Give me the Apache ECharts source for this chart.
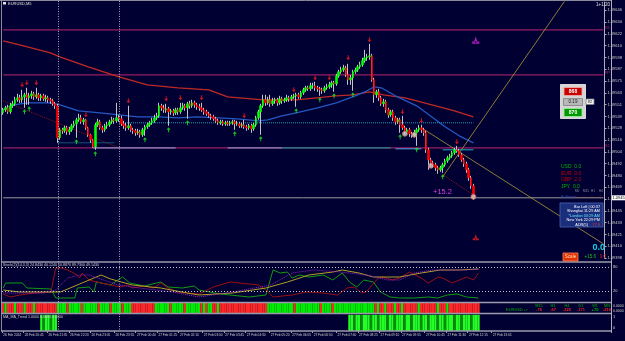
<!DOCTYPE html>
<html><head><meta charset="utf-8">
<script src="https://cdn.jsdelivr.net/npm/echarts/dist/echarts.min.js"></script>
<style>html,body{margin:0;padding:0;background:#000032;}#c{width:625px;height:341px;}</style>
</head><body><div id="c"></div>
<script>
// ---------- DATA (EURUSD, M5) ----------
const opens = [
1.09543,1.09546,1.09548,1.09544,1.09550,1.09552,1.09556,1.09558,1.09556,1.09559,
1.09561,1.09558,1.09560,1.09562,1.09559,1.09561,1.09558,1.09560,1.09557,1.09558,
1.09556,1.09555,1.09552,1.09550,1.09518,1.09526,1.09525,1.09528,1.09524,1.09526,
1.09530,1.09532,1.09536,1.09538,1.09534,1.09536,1.09528,1.09521,1.09516,1.09509,
1.09531,1.09534,1.09528,1.09526,1.09530,1.09531,1.09534,1.09536,1.09535,1.09538,
1.09537,1.09532,1.09530,1.09528,1.09530,1.09526,1.09525,1.09523,1.09524,1.09521,
1.09526,1.09529,1.09531,1.09533,1.09535,1.09538,1.09540,1.09550,1.09548,1.09546,
1.09547,1.09544,1.09545,1.09543,1.09546,1.09544,1.09548,1.09550,1.09548,1.09552,
1.09550,1.09553,1.09551,1.09549,1.09548,1.09546,1.09544,1.09542,1.09540,1.09539,
1.09537,1.09535,1.09533,1.09534,1.09532,1.09533,1.09532,1.09533,1.09534,1.09532,
1.09532,1.09530,1.09531,1.09529,1.09528,1.09530,1.09527,1.09531,1.09538,1.09544,
1.09550,1.09556,1.09553,1.09556,1.09552,1.09555,1.09556,1.09553,1.09557,1.09555,
1.09556,1.09558,1.09557,1.09559,1.09560,1.09561,1.09559,1.09563,1.09566,1.09568,
1.09567,1.09570,1.09570,1.09568,1.09567,1.09566,1.09565,1.09568,1.09569,1.09571,
1.09573,1.09572,1.09580,1.09584,1.09586,1.09588,1.09581,1.09576,1.09578,1.09584,
1.09586,1.09589,1.09591,1.09595,1.09598,1.09599,1.09600,1.09576,1.09561,1.09564,
1.09558,1.09552,1.09554,1.09546,1.09541,1.09544,1.09538,1.09534,1.09536,1.09531,
1.09528,1.09524,1.09526,1.09522,1.09521,1.09523,1.09526,1.09528,1.09526,1.09523,
1.09506,1.09496,1.09493,1.09491,1.09488,1.09486,1.09488,1.09491,1.09495,1.09498,
1.09500,1.09503,1.09506,1.09505,1.09501,1.09496,1.09492,1.09486,1.09478,1.09470];
const closes = [
1.09546,1.09548,1.09544,1.09550,1.09552,1.09556,1.09558,1.09556,1.09559,1.09561,
1.09558,1.09560,1.09562,1.09559,1.09561,1.09558,1.09560,1.09557,1.09558,1.09556,
1.09555,1.09552,1.09550,1.09518,1.09526,1.09525,1.09528,1.09524,1.09526,1.09530,
1.09532,1.09536,1.09538,1.09534,1.09536,1.09528,1.09521,1.09516,1.09509,1.09531,
1.09534,1.09528,1.09526,1.09530,1.09531,1.09534,1.09536,1.09535,1.09538,1.09537,
1.09532,1.09530,1.09528,1.09530,1.09526,1.09525,1.09523,1.09524,1.09521,1.09526,
1.09529,1.09531,1.09533,1.09535,1.09538,1.09540,1.09550,1.09548,1.09546,1.09547,
1.09544,1.09545,1.09543,1.09546,1.09544,1.09548,1.09550,1.09548,1.09552,1.09550,
1.09553,1.09551,1.09549,1.09548,1.09546,1.09544,1.09542,1.09540,1.09539,1.09537,
1.09535,1.09533,1.09534,1.09532,1.09533,1.09532,1.09533,1.09534,1.09532,1.09532,
1.09530,1.09531,1.09529,1.09528,1.09530,1.09527,1.09531,1.09538,1.09544,1.09550,
1.09556,1.09553,1.09556,1.09552,1.09555,1.09556,1.09553,1.09557,1.09555,1.09556,
1.09558,1.09557,1.09559,1.09560,1.09561,1.09559,1.09563,1.09566,1.09568,1.09567,
1.09570,1.09570,1.09568,1.09567,1.09566,1.09565,1.09568,1.09569,1.09571,1.09573,
1.09572,1.09580,1.09584,1.09586,1.09588,1.09581,1.09576,1.09578,1.09584,1.09586,
1.09589,1.09591,1.09595,1.09598,1.09599,1.09600,1.09576,1.09561,1.09564,1.09558,
1.09552,1.09554,1.09546,1.09541,1.09544,1.09538,1.09534,1.09536,1.09531,1.09528,
1.09524,1.09526,1.09522,1.09521,1.09523,1.09526,1.09528,1.09526,1.09523,1.09506,
1.09496,1.09493,1.09491,1.09488,1.09486,1.09488,1.09491,1.09495,1.09498,1.09500,
1.09503,1.09506,1.09505,1.09501,1.09496,1.09492,1.09486,1.09478,1.09470,1.09458];
const lows = [
1.09541,1.09544,1.09542,1.09542,1.09548,1.09550,1.09554,1.09553,1.09553,1.09548,
1.09551,1.09551,1.09557,1.09556,1.09557,1.09555,1.09555,1.09555,1.09554,1.09553,
1.09552,1.09550,1.09547,1.09513,1.09516,1.09522,1.09523,1.09521,1.09521,1.09524,
1.09528,1.09518,1.09534,1.09532,1.09531,1.09526,1.09519,1.09513,1.09508,1.09506,
1.09529,1.09526,1.09523,1.09524,1.09527,1.09529,1.09532,1.09532,1.09533,1.09534,
1.09530,1.09527,1.09525,1.09526,1.09524,1.09522,1.09520,1.09521,1.09518,1.09519,
1.09520,1.09527,1.09529,1.09531,1.09533,1.09536,1.09538,1.09545,1.09543,1.09543,
1.09530,1.09541,1.09540,1.09541,1.09541,1.09542,1.09546,1.09545,1.09537,1.09547,
1.09548,1.09548,1.09546,1.09545,1.09544,1.09541,1.09540,1.09538,1.09536,1.09535,
1.09533,1.09531,1.09531,1.09530,1.09530,1.09530,1.09530,1.09531,1.09526,1.09530,
1.09528,1.09528,1.09527,1.09525,1.09526,1.09523,1.09525,1.09529,1.09536,1.09521,
1.09548,1.09550,1.09551,1.09549,1.09550,1.09552,1.09550,1.09551,1.09552,1.09553,
1.09554,1.09554,1.09555,1.09557,1.09549,1.09557,1.09557,1.09561,1.09564,1.09565,
1.09565,1.09567,1.09565,1.09564,1.09560,1.09562,1.09563,1.09566,1.09567,1.09568,
1.09564,1.09570,1.09578,1.09582,1.09584,1.09579,1.09571,1.09571,1.09565,1.09582,
1.09584,1.09587,1.09589,1.09593,1.09595,1.09596,1.09574,1.09553,1.09558,1.09555,
1.09550,1.09549,1.09543,1.09538,1.09539,1.09535,1.09531,1.09532,1.09523,1.09526,
1.09521,1.09522,1.09519,1.09518,1.09519,1.09510,1.09524,1.09523,1.09520,1.09503,
1.09486,1.09490,1.09488,1.09485,1.09482,1.09484,1.09483,1.09489,1.09493,1.09496,
1.09498,1.09501,1.09503,1.09499,1.09494,1.09489,1.09483,1.09475,1.09467,1.09456];
const highs = [
1.09548,1.09550,1.09551,1.09553,1.09555,1.09559,1.09562,1.09561,1.09566,1.09563,
1.09568,1.09563,1.09565,1.09564,1.09568,1.09563,1.09562,1.09562,1.09561,1.09560,
1.09558,1.09557,1.09554,1.09552,1.09528,1.09528,1.09530,1.09530,1.09529,1.09532,
1.09535,1.09538,1.09542,1.09541,1.09538,1.09537,1.09529,1.09522,1.09517,1.09533,
1.09537,1.09536,1.09530,1.09532,1.09534,1.09536,1.09539,1.09538,1.09553,1.09541,
1.09540,1.09535,1.09533,1.09550,1.09532,1.09528,1.09527,1.09527,1.09526,1.09528,
1.09531,1.09533,1.09535,1.09538,1.09541,1.09543,1.09553,1.09552,1.09551,1.09552,
1.09549,1.09547,1.09547,1.09548,1.09548,1.09553,1.09553,1.09552,1.09554,1.09555,
1.09556,1.09555,1.09553,1.09552,1.09553,1.09548,1.09546,1.09544,1.09542,1.09541,
1.09539,1.09537,1.09536,1.09536,1.09535,1.09535,1.09535,1.09536,1.09536,1.09535,
1.09534,1.09533,1.09536,1.09531,1.09532,1.09532,1.09533,1.09540,1.09546,1.09552,
1.09561,1.09561,1.09559,1.09561,1.09558,1.09558,1.09558,1.09560,1.09559,1.09558,
1.09561,1.09560,1.09561,1.09562,1.09563,1.09563,1.09565,1.09568,1.09570,1.09570,
1.09573,1.09573,1.09574,1.09570,1.09569,1.09568,1.09570,1.09572,1.09574,1.09575,
1.09575,1.09582,1.09586,1.09589,1.09591,1.09590,1.09592,1.09581,1.09586,1.09588,
1.09591,1.09594,1.09598,1.09606,1.09602,1.09612,1.09602,1.09578,1.09566,1.09567,
1.09560,1.09557,1.09556,1.09548,1.09546,1.09546,1.09540,1.09538,1.09538,1.09540,
1.09530,1.09528,1.09528,1.09524,1.09526,1.09528,1.09531,1.09531,1.09528,1.09525,
1.09508,1.09498,1.09495,1.09493,1.09490,1.09490,1.09493,1.09497,1.09500,1.09502,
1.09505,1.09508,1.09510,1.09507,1.09503,1.09498,1.09494,1.09488,1.09480,1.09472];

// moving averages [barIndex, price]
const maSlow = [[0,1.09615],[7,1.09611],[20,1.09603],[24,1.09599],[36,1.09589],[49,1.09579],[61,1.09571],[74,1.09568],[87,1.09566],[95,1.09559],[110,1.09556],[124,1.09556],[141,1.09560],[148,1.09561],[155,1.09564],[161,1.09561],[170,1.09558],[175,1.09555],[183,1.09550],[191,1.09545],[199,1.09539]];
const maFast = [[0,1.09546],[3,1.09550],[7,1.09552],[11,1.09553],[20,1.09553],[24,1.09551],[28,1.09548],[32,1.09545],[41,1.09543],[49,1.09541],[57,1.09539],[66,1.09539],[74,1.09538],[82,1.09539],[91,1.09538],[99,1.09537],[108,1.09535],[112,1.09536],[118,1.09540],[124,1.09543],[133,1.09548],[141,1.09553],[149,1.09560],[154,1.09565],[157,1.09569],[160,1.09568],[166,1.09560],[175,1.09550],[183,1.09536],[187,1.09529],[193,1.09520],[199,1.09513]];

// fractal arrows
const fractalHigh = [[8,1.09571],[10,1.09573],[14,1.09573],[35,1.09541],[53,1.09555],[69,1.09557],[75,1.09558],[84,1.09558],[102,1.09540],[123,1.09566],[132,1.09578],[138,1.09578],[146,1.09598],[155,1.09616],[169,1.09544],[177,1.09535],[192,1.09514]];
const fractalLow = [[9,1.09544],[11,1.09547],[31,1.09514],[39,1.09502],[60,1.09516],[70,1.09526],[78,1.09533],[98,1.09522],[109,1.09517],[124,1.09545],[134,1.09556],[140,1.09560],[148,1.09561],[168,1.09519],[175,1.09506],[186,1.09479]];
const orderMarks = [[170,1.09522],[174,1.09521],[181,1.09490],[199,1.09459]];
const targetUp = [[200,1.09615]];
const targetDown = [[200,1.09418]];

// drawn objects
const trendRedA = [[0,1.09555],[49,1.09508]];
const trendRedB = [[186,1.09481],[199,1.09461]];
const trendGoldA = [[186,1.09479],[238,1.09656]];
const trendGoldB = [[177,1.09528],[254,1.09412]];
const cyanA = [[23,1.09513],[47,1.09513]];
const cyanB = [[49,1.09533],[199,1.09533]];
const cyanC = [[186,1.09506],[199,1.09506]];
const blueSeg = [[166,1.09507],[177,1.09507]];
const lavA = [[38,1.09508],[73,1.09508]];
const lavB = [[95,1.09508],[118,1.09508]];
const tealA = [[118,1.09508],[164,1.09508]];
const pivotLevels = [1.09626, 1.09581, 1.09508];
const pivotNames = ['R1', 'PP', 'S1'];
const bidPrice = 1.09458;

// oscillator panel [barIndex, value]
const oscGreen = [[0,27.5],[1,40],[8,40],[10,27.5],[20,25],[22,2.5],[30,2.5],[31,27.5],[36,30],[38,17.5],[39,42.5],[45,35],[48,47.5],[50,55],[53,40],[59,32.5],[66,42.5],[69,30],[75,27.5],[80,32.5],[82,22.5],[91,12.5],[103,5],[110,10],[113,72.5],[116,65],[119,67.5],[121,52.5],[124,60],[128,55],[134,60],[138,47.5],[142,65],[145,42.5],[148,30],[151,47.5],[155,42.5],[158,17.5],[162,5],[166,2.5],[172,2.5],[178,5],[182,2.5],[186,10],[190,12.5],[194,5],[199,2.5]];
const oscRed = [[0,12.5],[3,5],[7,10],[13,15],[20,17.5],[22,77.5],[24,77.5],[27,72.5],[31,60],[32,52.5],[33,65],[36,47.5],[41,40],[45,35],[49,30],[52,35],[54,27.5],[59,32.5],[63,27.5],[66,40],[69,27.5],[73,17.5],[77,15],[82,12.5],[88,30],[95,42.5],[107,35],[110,22.5],[113,5],[121,10],[127,17.5],[134,15],[140,10],[144,27.5],[147,30],[150,15],[152,17.5],[157,52.5],[159,55],[163,47.5],[166,52.5],[170,67.5],[175,52.5],[178,40],[182,55],[184,52.5],[188,40],[194,55],[197,47.5],[199,65]];
const oscYellow = [[0,22.5],[7,17.5],[15,17.5],[24,17.5],[32,37.5],[41,60],[45,50],[54,35],[66,27.5],[77,15],[82,10],[96,15],[110,27.5],[119,42.5],[128,60],[138,67.5],[142,72.5],[149,65],[155,55],[161,55],[166,55],[175,65],[183,72.5],[191,72.5],[199,75]];
const oscPurple = [[0,15],[17,15],[22,22.5],[27,52.5],[32,60],[36,60],[48,35],[57,27.5],[71,17.5],[82,5],[96,17.5],[112,35],[121,65],[130,72.5],[141,67.5],[152,60],[161,47.5],[166,47.5],[172,65],[180,72.5],[194,72.5],[199,75]];
const oscLevels = [80, 20];

// colour-bar panel (G = up, R = down), per bar
const trendBar = ('RGR' + 'RRGRRRGRRRGRR' + 'RRRRRRR' + 'GGGGRGGGGGRGGGGGGRGGGGRGGGGRGGG' + 'RRRRRRRRRR' +
  'GGGGGGRGGGGGRGGGGG' + 'GRGRGGRRGR' + 'RRRRRRRRRRRRRRRRRRR' +
  'GGGGGGGGGGGRGGGGGGGGGGRGGGGRGGGGGGGGGGGGGGGGG' + 'RGRRGRRRGRRGRRR' + 'RRRGRRRRRRRGRRRGRRRRRRRRRRRRR').split('');
// trend histogram panel (G bright, g dark, . none)
const maTrend = ('................' + 'GgGGgGG' + '.'.repeat(122) +
  'GGgGGgGGGgGGgGGGgGGgGGGgGGgGGGgGGgGGGgGGgGGGgGGgGGGgGGG').split('');

const slotCount = 255;
const timeLabelIdx = [0,9,19,28,37,47,56,65,74,84,93,102,112,121,130,140,149,158,167,177,186,195,205];
const timeLabels = ['26 Feb 2024','26 Feb 20:45','26 Feb 21:35','26 Feb 22:20','26 Feb 23:05','26 Feb 23:55','27 Feb 00:40','27 Feb 01:25','27 Feb 02:10','27 Feb 03:00','27 Feb 03:45','27 Feb 04:30','27 Feb 05:20','27 Feb 06:05','27 Feb 06:50','27 Feb 07:40','27 Feb 08:25','27 Feb 09:10','27 Feb 09:55','27 Feb 10:45','27 Feb 11:30','27 Feb 12:15','27 Feb 13:05'];
const separators = [23, 49];

// ---------- CHART ----------
const categories = Array.from({length: slotCount}, (_, i) => String(i));
const FONT = '"Liberation Sans", Arial, sans-serif';
const chart = echarts.init(document.getElementById('c'), null, {renderer: 'canvas', width: 625, height: 341});

const candleData = closes.map((c, i) => [opens[i], c, lows[i], highs[i]]);
const bodyData = closes.map((c, i) => [opens[i], c, Math.min(opens[i], c), Math.max(opens[i], c)]);

function seg(data, color, type, width, z) {
  return {type: 'line', xAxisIndex: 0, yAxisIndex: 0, data: data, showSymbol: false, symbol: 'none', silent: true,
    z: z || 2, lineStyle: {color: color, width: width || 1, type: type || 'solid'}, animation: false};
}
function osc(data, color, type) {
  return {type: 'line', xAxisIndex: 1, yAxisIndex: 1, data: data, showSymbol: false, symbol: 'none', silent: true,
    lineStyle: {color: color, width: 1, type: type || 'solid'}, animation: false};
}
function hline(v, color, w, z) {
  return seg([[0, v], [slotCount - 1, v]], color, 'solid', w, z);
}
const arrowDown = 'path://M3,0 L5,0 L5,5 L8,5 L4,10 L0,5 L3,5 Z';
const isLabel = (idx) => timeLabelIdx.indexOf(idx) >= 0;

const xAxes = [0, 1, 2, 3].map(g => ({
  gridIndex: g, type: 'category', data: categories, boundaryGap: true,
  axisLine: {show: false}, splitLine: {show: false},
  axisTick: {show: g === 3, interval: isLabel, length: 2, lineStyle: {color: '#a0a0a0'}},
  axisLabel: {show: g === 3, interval: isLabel, align: 'left', margin: 3, fontSize: 3.2, color: '#d0d0d0', fontFamily: FONT,
    formatter: (v) => { const k = timeLabelIdx.indexOf(Number(v)); return k >= 0 ? timeLabels[k] : ''; }}
}));

const option = {
  backgroundColor: '#000032',
  animation: false,
  grid: [
    {left: 2, right: 14, top: 2, height: 256},
    {left: 2, right: 14, top: 262, height: 40},
    {left: 2, right: 14, top: 303, height: 10},
    {left: 2, right: 14, top: 314, height: 17}
  ],
  xAxis: xAxes,
  yAxis: [
    {gridIndex: 0, type: 'value', position: 'right', min: 1.093978, max: 1.096538, interval: 0.000118,
      axisLine: {show: true, lineStyle: {color: '#b0b0b0'}}, axisTick: {show: true, length: 2, lineStyle: {color: '#b0b0b0'}},
      splitLine: {show: false},
      axisLabel: {fontSize: 4, color: '#d0d0d0', margin: 3, fontFamily: FONT, showMaxLabel: false, formatter: v => v.toFixed(5)}},
    {gridIndex: 1, type: 'value', min: -7.5, max: 92.5, show: false},
    {gridIndex: 2, type: 'value', min: 0, max: 1, show: false},
    {gridIndex: 3, type: 'value', min: 0, max: 1.05, show: false}
  ],
  series: [
    hline(pivotLevels[0], '#961e64', 1.2, 1),
    hline(pivotLevels[1], '#961e64', 1.2, 1),
    hline(pivotLevels[2], '#961e64', 1.2, 1),
    hline(bidPrice, '#9a9a9a', 1, 1),
    seg(maSlow, '#c02a24', 'solid', 1.3, 2),
    seg(maFast, '#2458c0', 'solid', 1.3, 2),
    seg(trendRedA, '#8a1818', 'dotted', 1, 2),
    seg(trendRedB, '#a01818', 'dotted', 1, 2),
    seg(trendGoldA, '#b09a3a', 'solid', 0.8, 2),
    seg(trendGoldB, '#b09a3a', 'solid', 0.8, 2),
    seg(cyanA, '#20a0c0', 'dotted', 1, 2),
    seg(cyanB, '#20a0c0', 'dotted', 1, 2),
    seg(cyanC, '#20b0c0', 'solid', 1, 2),
    seg(blueSeg, '#50a0e0', 'solid', 1, 2),
    seg(lavA, '#8a8ac0', 'solid', 1.2, 3),
    seg(lavB, '#8a8ac0', 'solid', 1.2, 3),
    seg(tealA, '#208890', 'solid', 1.2, 3),
    {type: 'candlestick', name: 'wicks', xAxisIndex: 0, yAxisIndex: 0, data: candleData, barWidth: 1, z: 4, silent: true,
      itemStyle: {color: '#c4c4c4', color0: '#c4c4c4', borderColor: '#c4c4c4', borderColor0: '#c4c4c4', borderWidth: 1}},
    {type: 'candlestick', name: 'bodies', xAxisIndex: 0, yAxisIndex: 0, data: bodyData, barWidth: 2, z: 5, silent: true,
      itemStyle: {color: '#00ff00', color0: '#ff0000', borderColor: '#00ff00', borderColor0: '#ff0000', borderWidth: 0.6}},
    {type: 'scatter', xAxisIndex: 0, yAxisIndex: 0, data: fractalHigh, symbol: arrowDown, symbolSize: [4, 5], z: 6,
      itemStyle: {color: '#ff1a1a'}, silent: true},
    {type: 'scatter', xAxisIndex: 0, yAxisIndex: 0, data: fractalLow, symbol: arrowDown, symbolRotate: 180, symbolSize: [4, 5], z: 6,
      itemStyle: {color: '#22ee22'}, silent: true},
    {type: 'scatter', xAxisIndex: 0, yAxisIndex: 0, data: orderMarks, symbol: 'circle', symbolSize: 5, z: 7,
      itemStyle: {color: '#d8d0c8', borderColor: '#c07070', borderWidth: 1}, silent: true},
    {type: 'scatter', xAxisIndex: 0, yAxisIndex: 0, data: targetUp, symbol: 'path://M0,10 L10,10 L10,8 L7,8 L5,2 L3,8 L0,8 Z', symbolSize: [6, 5], z: 7,
      itemStyle: {color: 'none', borderColor: '#e020e0', borderWidth: 1}, silent: true},
    {type: 'scatter', xAxisIndex: 0, yAxisIndex: 0, data: targetDown, symbol: 'path://M0,10 L10,10 L10,8 L7,8 L5,2 L3,8 L0,8 Z', symbolSize: [5, 4], z: 7,
      itemStyle: {color: 'none', borderColor: '#e02020', borderWidth: 1}, silent: true},
    Object.assign(osc(oscGreen, '#129a12'), {markLine: {silent: true, symbol: 'none', animation: false, label: {show: false},
      lineStyle: {color: '#c0c0c0', type: [1, 2], width: 1}, data: oscLevels.map(v => ({yAxis: v}))}}),
    osc(oscRed, '#9a0f14'),
    osc(oscYellow, '#b0a028'),
    osc(oscPurple, '#9a22c0', 'dotted'),
    {type: 'bar', xAxisIndex: 2, yAxisIndex: 2, barCategoryGap: '0%', silent: true,
      data: trendBar.map(ch => ({value: 1, itemStyle: {color: ch === 'G' ? '#00ee00' : '#ff2828'}}))},
    {type: 'bar', xAxisIndex: 3, yAxisIndex: 3, barCategoryGap: '0%', silent: true,
      data: maTrend.map(ch => ch === '.' ? 0 : {value: 1, itemStyle: {color: ch === 'G' ? '#22ff22' : '#0a8a0a'}})}
  ]
};
chart.setOption(option);

// ---------- OVERLAY (frames, texts, panel widgets) ----------
function T(x, y, text, fill, size, align, bold) {
  return {type: 'text', x: x, y: y, silent: true, z: 60, style: {text: text, fill: fill,
    font: (bold ? 'bold ' : '') + size + 'px ' + FONT, textAlign: align || 'left', textVerticalAlign: 'middle'}};
}
function R(x, y, w, h, fill, stroke) {
  return {type: 'rect', silent: true, z: 55, shape: {x: x, y: y, width: w, height: h},
    style: {fill: fill, stroke: stroke || null, lineWidth: stroke ? 0.8 : 0}};
}
function Ln(x1, y1, x2, y2, color, w, dash) {
  return {type: 'line', silent: true, z: 50, shape: {x1: x1, y1: y1, x2: x2, y2: y2},
    style: {stroke: color, lineWidth: w || 1, lineDash: dash || null}};
}
const g = [];
// frames
g.push(Ln(0, 0.5, 611, 0.5, '#8a8a9a', 1));
g.push(Ln(1.5, 0, 1.5, 331, '#8a8a9a', 1));
g.push(Ln(611.5, 0, 611.5, 331.5, '#b0b0b0', 1));
[262, 302.5, 313.5, 331].forEach(y => g.push(Ln(1, y, 611, y, '#9a9aaa', 1.3)));
// period separators
separators.forEach(i => {
  const x = Math.round(chart.convertToPixel({xAxisIndex: 0}, i)) + 0.5;
  g.push(Ln(x, 1, x, 331, '#a8a8b8', 1, [1, 1.5]));
});
// bid price box on the price scale
const bidY = chart.convertToPixel({yAxisIndex: 0}, bidPrice);
g.push(R(612, bidY - 2.5, 13, 5, '#ffffff'));
g.push(T(612.5, bidY, bidPrice.toFixed(5), '#000000', 4));
// headers
g.push(R(3, 2, 3, 2.5, '#e0e0e0'));
g.push(T(8, 3.5, 'EURUSD,M5', '#e0e0e0', 4));
g.push(T(610, 4.5, '1+1:20', '#e0e0e0', 4.5, 'right'));
g.push(T(3, 265, 'Stoch(2)(14,3,3) 24.8430 40.1240 10.8870 89.7300 49.1430', '#d0d0d0', 3.6));
g.push(T(3, 317, 'MA_MA_Trend 1.0000 0.0000 0.0000', '#d0d0d0', 3.6));
// pivot names
pivotLevels.forEach((v, k) => {
  const y = chart.convertToPixel({yAxisIndex: 0}, v);
  g.push(T(610, y - 2, pivotNames[k], '#b02a7a', 4, 'right'));
});
// trade panel
g.push(R(560.5, 84.5, 25, 34, '#d4d4d4', '#f4f4f4'));
g.push(R(564, 87.5, 18, 8, '#c80000', '#f0b0b0'));
g.push(T(573, 91.5, '868', '#ffffff', 5, 'center', true));
g.push(R(563.5, 98.5, 19, 7, '#b8b8b8', '#808080'));
g.push(T(573, 102, '0.19', '#202020', 4.5, 'center'));
g.push(R(586, 99, 8, 5.5, '#f0f0f0', '#808080'));
g.push(T(590, 101.8, '82', '#202020', 4, 'center'));
g.push(R(564, 108.5, 18, 8, '#009a00', '#a0f0a0'));
g.push(T(573, 112.5, '870', '#ffffff', 5, 'center', true));
// currency strength
g.push(T(561, 167, 'USD  0.0', '#00b400', 5));
g.push(T(561, 173.5, 'EUR  0.0', '#c80000', 5));
g.push(T(561, 180, 'GBP  2.0', '#c80000', 5));
g.push(T(561, 186.5, 'JPY  0.0', '#00b400', 5));
g.push(T(561, 196.5, 'Bollinger', '#3050b0', 3.8));
['M5', 'M15', 'H1', 'H4'].forEach((t, k) => {
  g.push(T(575 + k * 8, 191.5, t, '#9090a0', 3));
  g.push(T(576 + k * 8, 197, '\u2193', '#ff2020', 5, 'center', true));
});
// info box
g.push(R(560, 203, 43, 24, '#1a2e7c', '#4a66b8'));
g.push(T(600, 206.5, 'Bar Left | 00:37', '#ffffff', 3.8, 'right'));
g.push(T(600, 211, 'Shanghai 11:29 AM', '#ffffff', 3.8, 'right'));
g.push(T(600, 215.5, '*London 03:29 AM', '#60e0ff', 3.8, 'right'));
g.push(T(600, 220, 'New York 22:29 PM', '#ffffff', 3.8, 'right'));
g.push(T(588, 224.5, 'ADR(5)', '#ffffff', 3.8, 'right'));
g.push(T(600, 224.5, '77.9', '#ff3030', 3.8, 'right'));
// profit labels
g.push(T(433, 192, '+15.2', '#e040e0', 7.5));
g.push(T(605, 248, '0.0', '#20d0e0', 9, 'right', true));
g.push(T(596, 257, '+15.6', '#20c020', 4.5, 'right'));
g.push(T(606, 257, '0.0', '#d02020', 4.5, 'right'));
g.push(R(563, 253, 15, 8, '#e03000', '#ff8060'));
g.push(T(570.5, 257, 'Scale', '#ffe0b0', 4.5, 'center'));
// panel scale labels
g.push(T(613, 267, '80', '#d0d0d0', 4));
g.push(T(613, 291, '20', '#d0d0d0', 4));
g.push(T(613, 306, '0.0000', '#d0d0d0', 3.5));
g.push(T(613, 311, '0.0000', '#d0d0d0', 3.5));
g.push(T(613, 317, '1', '#d0d0d0', 4));
g.push(T(613, 328, '0', '#d0d0d0', 4));
// multi-timeframe table
const tfNames = ['M15', 'H1', 'H4', 'D1', 'W1', 'MN'];
const tfVals = ['-79', '-67', '-226', '-171', '+70', '-216'];
const tfX = [539, 553, 567, 581, 595, 607];
g.push(T(506, 309.5, 'EURUSD ->', '#00b000', 4));
tfNames.forEach((t, k) => g.push(T(tfX[k], 305.5, t, '#00b000', 3.8, 'center')));
tfVals.forEach((t, k) => g.push(T(tfX[k], 310, t, t[0] === '+' ? '#00c000' : '#ff2020', 4, 'center', true)));
chart.setOption({graphic: g});
</script></body></html>
